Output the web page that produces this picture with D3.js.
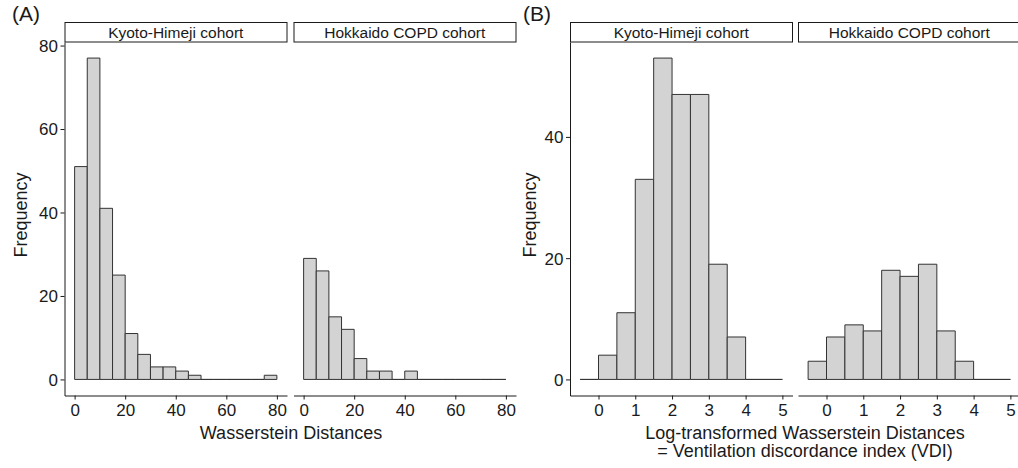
<!DOCTYPE html>
<html>
<head>
<meta charset="utf-8">
<script src="https://cdn.jsdelivr.net/npm/d3@7"></script>
<style>
  body { margin: 0; background: #fff; }
  svg { display: block; font-family: "Liberation Sans", Arial, Helvetica, sans-serif; }
</style>
</head>
<body>
<svg id="chart" width="1018" height="468"></svg>
<script>
// Facet names
const cohorts = ["Kyoto-Himeji cohort", "Hokkaido COPD cohort"];

// (A) Wasserstein distances, bins of width 5
const edgesA = [0, 5, 10, 15, 20, 25, 30, 35, 40, 45, 50, 55, 60, 65, 70, 75, 80];
const kyotoA = [51, 77, 41, 25, 11, 6, 3, 3, 2, 1, 0, 0, 0, 0, 0, 1];
const hokkaidoA = [29, 26, 15, 12, 5, 2, 2, 0, 2, 0, 0, 0, 0, 0, 0, 0];
const xTicksA = [0, 20, 40, 60, 80];
const yTicksA = [0, 20, 40, 60, 80];

// (B) log-transformed distances (VDI), bins of width 0.5
const edgesB = [-0.5, 0, 0.5, 1, 1.5, 2, 2.5, 3, 3.5, 4, 4.5, 5];
const kyotoB = [0, 4, 11, 33, 53, 47, 47, 19, 7, 0, 0];
const hokkaidoB = [3, 7, 9, 8, 18, 17, 19, 8, 3, 0, 0];
const xTicksB = [0, 1, 2, 3, 4, 5];
const yTicksB = [0, 20, 40];

const svg = d3.select("#chart");
const ink = "#1a1a1a";
const barFill = "#d3d3d3";
const barStroke = "#333333";

const panelTop = 42, panelBottom = 395.5, stripTop = 22.5;
const panelW = 222.5;

// Draw one histogram panel with two cohort facets
function drawPanel(cfg) {
  const { edges, series, xTicks, yTicks, lefts, tag, tagX, ylabX, titleLines, titleX } = cfg;
  const lo = edges[0], hi = edges[edges.length - 1];
  const xPad = (hi - lo) * 0.05;
  const yMax = d3.max(series.flat());
  const y = d3.scaleLinear().domain([-yMax * 0.05, yMax * 1.05]).range([panelBottom, panelTop]);

  series.forEach((counts, fi) => {
    const x0 = lefts[fi];
    const x = d3.scaleLinear().domain([lo - xPad, hi + xPad]).range([x0, x0 + panelW]);
    const g = svg.append("g");

    // strip
    g.append("rect")
      .attr("x", x0 + 0.5).attr("y", stripTop)
      .attr("width", panelW - 0.5).attr("height", panelTop - stripTop)
      .attr("fill", "#fff").attr("stroke", ink).attr("stroke-width", 1);
    g.append("text")
      .attr("x", x0 + panelW / 2).attr("y", 37.8)
      .attr("text-anchor", "middle").attr("font-size", 15.5).attr("fill", ink)
      .text(cohorts[fi]);

    // bars (zero-count bins remain as a flat outline on the baseline)
    const bins = counts.map((c, i) => ({ a: edges[i], b: edges[i + 1], c }));
    g.selectAll("path.bar").data(bins).join("path")
      .attr("class", "bar")
      .attr("d", d => `M${x(d.a)},${y(0)}V${y(d.c)}H${x(d.b)}V${y(0)}Z`)
      .attr("fill", barFill).attr("stroke", barStroke).attr("stroke-width", 1);

    // x axis
    const ax = g.append("g").attr("transform", `translate(0,${panelBottom})`)
      .call(d3.axisBottom(x).tickValues(xTicks).tickSize(4).tickSizeOuter(0).tickFormat(d3.format("d")));
    ax.select(".domain").attr("stroke", ink);
    ax.selectAll(".tick line").attr("stroke", ink);
    ax.selectAll(".tick text").attr("y", 20.5).attr("dy", 0)
      .attr("font-size", 17).attr("fill", ink).attr("font-family", null);

    // y axis only on the first facet
    if (fi === 0) {
      const ay = g.append("g").attr("transform", `translate(${x0},0)`)
        .call(d3.axisLeft(y).tickValues(yTicks).tickSize(4).tickSizeOuter(0));
      ay.select(".domain").attr("stroke", ink);
      ay.selectAll(".tick line").attr("stroke", ink);
      ay.selectAll(".tick text").attr("x", -6.5).attr("dy", "0.35em")
        .attr("font-size", 17).attr("fill", ink).attr("font-family", null);
    }
  });

  // y axis title
  svg.append("text")
    .attr("transform", `translate(${ylabX},215) rotate(-90)`)
    .attr("text-anchor", "middle").attr("font-size", 18).attr("fill", ink)
    .text("Frequency");

  // x axis title
  titleLines.forEach((t, i) => {
    svg.append("text")
      .attr("x", titleX).attr("y", 438.5 + i * 18)
      .attr("text-anchor", "middle").attr("font-size", 18).attr("fill", ink)
      .text(t);
  });

  // panel tag
  svg.append("text")
    .attr("x", tagX).attr("y", 21)
    .attr("font-size", 21).attr("fill", ink)
    .text(tag);
}

drawPanel({
  edges: edgesA, series: [kyotoA, hokkaidoA], xTicks: xTicksA, yTicks: yTicksA,
  lefts: [64.5, 293.5], tag: "(A)", tagX: 12, ylabX: 26.5,
  titleLines: ["Wasserstein Distances"], titleX: 291
});

drawPanel({
  edges: edgesB, series: [kyotoB, hokkaidoB], xTicks: xTicksB, yTicks: yTicksB,
  lefts: [570, 798], tag: "(B)", tagX: 523, ylabX: 536,
  titleLines: ["Log-transformed Wasserstein Distances", "= Ventilation discordance index (VDI)"], titleX: 805
});
</script>
</body>
</html>
